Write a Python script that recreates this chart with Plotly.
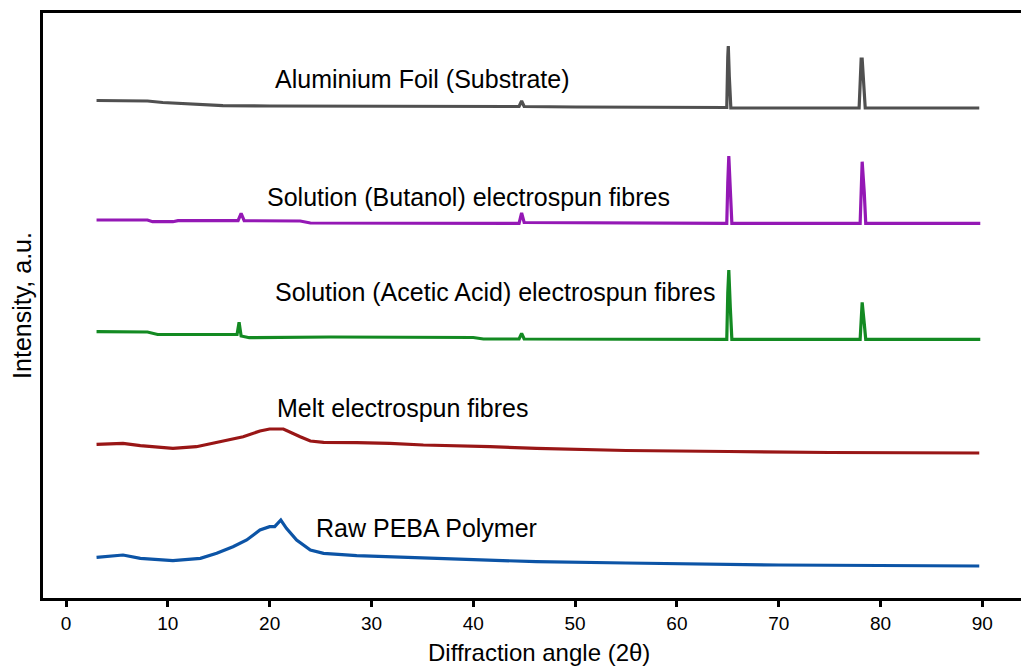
import plotly.graph_objects as go

# ---- data (2-theta in degrees, intensity in arbitrary units incl. stacking offset) ----
al_x = [3.0, 5.0, 8.0, 9.5, 12.0, 15.4, 20.0, 30.0, 44.5, 44.75, 45.0, 50.0, 64.9, 65.0, 65.05, 65.15, 65.3,
        77.9, 78.1, 78.2, 78.35, 78.5, 89.7]
al_y = [497.5, 497.5, 497, 495.5, 494, 492.3, 492, 491.5, 491.5, 497, 491.5, 491, 490.5, 541.3, 552, 521.3, 490,
        490, 539, 539, 513, 490, 490]

but_x = [3.0, 8.0, 8.5, 10.5, 11.0, 16.9, 17.2, 17.5, 23.0, 24.0, 44.5, 44.75, 45.0, 64.9, 65.0, 65.1, 65.25, 65.4,
         78.0, 78.2, 78.4, 78.55, 89.8]
but_y = [378, 378, 376.3, 376.3, 377.3, 377.3, 384.7, 377.3, 377, 375, 374.7, 385, 375.5, 374.7, 415, 442, 408, 374.7,
         374.7, 436.3, 406.3, 374.7, 374.7]

ace_x = [3.0, 8.0, 9.0, 16.8, 17.0, 17.2, 18.0, 26.0, 40.0, 41.0, 44.5, 44.75, 45.0, 64.9, 65.0, 65.1, 65.25, 65.4,
         78.0, 78.2, 78.4, 78.55, 89.8]
ace_y = [266.3, 266, 263.5, 263.5, 275.7, 262, 260.3, 261, 260.5, 259, 259, 264.7, 259, 258.7, 305, 328, 290, 258.7,
         258.7, 295.7, 275, 258.7, 258.7]

melt_x = [3.0, 5.6, 7.3, 10.5, 12.8, 15.45, 17.4, 19.05, 20.0, 21.35, 22.0, 23.0, 24.0, 25.3, 28.55, 31.8, 35.1,
          38.4, 41.65, 46.2, 55.0, 65.0, 75.0, 89.7]
melt_y = [153.7, 154.7, 152.3, 149.7, 151.3, 157, 161.3, 167, 169, 169, 165.7, 161.3, 157, 155.7, 155.3, 154.7, 153,
          152.3, 151.3, 149.7, 147.5, 146.5, 145.5, 145]

raw_x = [3.0, 5.6, 7.3, 10.5, 13.2, 14.8, 16.4, 17.75, 19.05, 20.0, 20.5, 21.1, 21.65, 22.65, 24.0, 25.3, 28.55,
         31.8, 35.1, 38.4, 41.65, 46.2, 55.0, 70.0, 89.7]
raw_y = [40.7, 43, 39.7, 37.3, 39.7, 44.7, 51.3, 58, 68, 71.3, 71.3, 78, 69.7, 58, 48, 44.7, 42.3, 41.3, 40.3, 38.7,
         38, 36.3, 35, 33, 32]

series_names = ["Aluminium Foil (Substrate)", "Solution (Butanol) electrospun fibres",
                "Solution (Acetic Acid) electrospun fibres", "Melt electrospun fibres", "Raw PEBA Polymer"]
series_x = [al_x, but_x, ace_x, melt_x, raw_x]
series_y = [al_y, but_y, ace_y, melt_y, raw_y]
colors = ["#505050", "#9418b5", "#138a22", "#991616", "#0c54a6"]

label_x = [34.97, 39.5, 42.2, 33.05, 35.4]
label_y = [519, 401, 306, 190, 70]

x_ticks = [0, 10, 20, 30, 40, 50, 60, 70, 80, 90]

FONT = "Liberation Sans, Arial, sans-serif"

fig = go.Figure()
for name, xs, ys, c in zip(series_names, series_x, series_y, colors):
    fig.add_trace(go.Scatter(x=xs, y=ys, mode="lines", name=name,
                             line=dict(color=c, width=3.2), showlegend=False))

for name, lx, ly in zip(series_names, label_x, label_y):
    fig.add_annotation(x=lx, y=ly, text=name, showarrow=False, xref="x", yref="y",
                       xanchor="center", yanchor="middle",
                       font=dict(family=FONT, size=25, color="#000000"))

fig.add_annotation(text="Diffraction angle (2θ)", xref="paper", yref="paper",
                   x=0.507, y=-0.094, showarrow=False, xanchor="center", yanchor="middle",
                   font=dict(family=FONT, size=24, color="#000000"))
fig.add_annotation(text="Intensity, a.u.", xref="paper", yref="paper",
                   x=-0.0215, y=0.501, showarrow=False, textangle=-90,
                   xanchor="center", yanchor="middle",
                   font=dict(family=FONT, size=25, color="#000000"))

fig.update_layout(
    width=1021, height=666,
    margin=dict(l=43, r=0, t=13, b=68),
    paper_bgcolor="white", plot_bgcolor="white",
    font=dict(family=FONT, color="#000000"),
    xaxis=dict(range=[-2.26, 93.8], tickmode="array", tickvals=x_ticks,
               ticktext=[str(v) for v in x_ticks],
               showline=True, linecolor="black", linewidth=3, mirror=True,
               ticks="outside", ticklen=6, tickwidth=3, tickcolor="black",
               showgrid=False, zeroline=False,
               tickfont=dict(family=FONT, size=19, color="#000000")),
    yaxis=dict(range=[0, 585], showline=True, linecolor="black", linewidth=3,
               mirror=False, showticklabels=False, ticks="",
               showgrid=False, zeroline=False),
)

fig.write_html("out.html")
